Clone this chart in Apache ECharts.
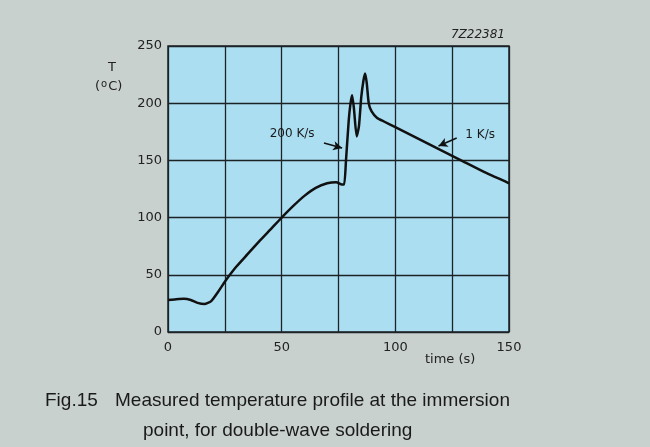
<!DOCTYPE html>
<html>
<head>
<meta charset="utf-8">
<script src="https://cdn.jsdelivr.net/npm/echarts@6/dist/echarts.min.js"></script>
<style>
  html, body { margin: 0; padding: 0; background: #c8d1ce; }
  #chart { width: 650px; height: 447px; }
</style>
</head>
<body>
<div id="chart"></div>
<script>
// measured profile
const timeS = [0, 3, 7, 10, 13, 16, 19, 22, 25, 30, 35, 40, 45, 50, 55, 60, 65, 70, 74, 76.5, 77.5,
  78.3, 79.5, 80.3, 81, 81.8, 83, 84, 85, 86, 86.7, 87.4, 88.3, 89.5, 92, 95, 100, 110, 120, 130, 140, 150];
const tempC = [28, 28.5, 29, 28, 25.5, 24.5, 27, 35, 44, 57, 68, 79, 89.5, 100, 110, 119, 126, 130, 131, 129, 129,
  150, 185, 200, 207, 195, 171, 180, 205, 220, 226, 218, 200, 193, 187, 184, 179, 169, 159, 149, 139, 130];

const xLabels = [0, 50, 100, 150];

// annotation arrows [from, to] in data units, and their texts
const arrows = [
  [[68.6, 165.2], [76.6, 160.8]],
  [[127, 169.6], [119, 162.6]]
];
const notes = [
  { text: '200 K/s', at: [54.6, 173] },
  { text: '1 K/s', at: [137.3, 172.2] }
];

const ink = '#1c2327';
const font = 'DejaVu Sans';
const capFont = 'Liberation Sans';

const chart = echarts.init(document.getElementById('chart'));

chart.setOption({
  backgroundColor: '#c8d1ce',
  animation: false,
  grid: {
    left: 168, top: 46, width: 341, height: 286,
    show: true, backgroundColor: '#acdef2',
    borderColor: ink, borderWidth: 1.5
  },
  xAxis: {
    type: 'value', min: 0, max: 150, interval: 25,
    axisLine: { show: false }, axisTick: { show: false },
    splitLine: { lineStyle: { color: ink, width: 1.3 } },
    axisLabel: {
      margin: 9, color: '#222', fontFamily: font, fontSize: 13,
      formatter: v => xLabels.includes(v) ? String(v) : ''
    }
  },
  yAxis: {
    type: 'value', min: 0, max: 250, interval: 50,
    axisLine: { show: false }, axisTick: { show: false },
    splitLine: { lineStyle: { color: ink, width: 1.3 } },
    axisLabel: { margin: 6, color: '#222', fontFamily: font, fontSize: 13 }
  },
  graphic: [
    { type: 'text', left: 108, top: 61, style: { text: 'T', fill: '#222', font: '13px ' + font } },
    {
      type: 'text', left: 95, top: 79,
      style: {
        text: '({s|o}C)', fill: '#222', font: '13px ' + font,
        rich: { s: { fontSize: 10, verticalAlign: 'top', padding: [0, 1, 5, 1], fill: '#222', fontFamily: font } }
      }
    },
    { type: 'text', right: 145, top: 29, style: { text: '7Z22381', fill: '#222', font: 'italic 12px ' + font } },
    { type: 'text', left: 425, top: 353, style: { text: 'time (s)', fill: '#222', font: '13px ' + font } },
    { type: 'text', left: 45, top: 391, style: { text: 'Fig.15', fill: '#1a1a1a', font: '19px ' + capFont } },
    { type: 'text', left: 115, top: 391, style: { text: 'Measured temperature profile at the immersion', fill: '#1a1a1a', font: '19px ' + capFont } },
    { type: 'text', left: 143, top: 421, style: { text: 'point, for double-wave soldering', fill: '#1a1a1a', font: '19px ' + capFont } }
  ],
  series: [{
    type: 'line',
    data: timeS.map((t, i) => [t, tempC[i]]),
    showSymbol: false,
    smooth: 0.2,
    lineStyle: { color: '#111', width: 2.5 },
    markLine: {
      silent: true,
      symbol: ['none', 'arrow'],
      symbolSize: [7, 9],
      label: { show: false },
      lineStyle: { color: '#111', width: 1.5, type: 'solid' },
      data: arrows.map(a => [{ coord: a[0] }, { coord: a[1] }])
    },
    markPoint: {
      silent: true,
      symbol: 'circle',
      symbolSize: 0,
      label: {
        show: true, position: 'inside', color: '#1a1a1a',
        fontFamily: font, fontSize: 12, formatter: p => p.name
      },
      data: notes.map(n => ({ name: n.text, coord: n.at }))
    }
  }]
});
</script>
</body>
</html>
